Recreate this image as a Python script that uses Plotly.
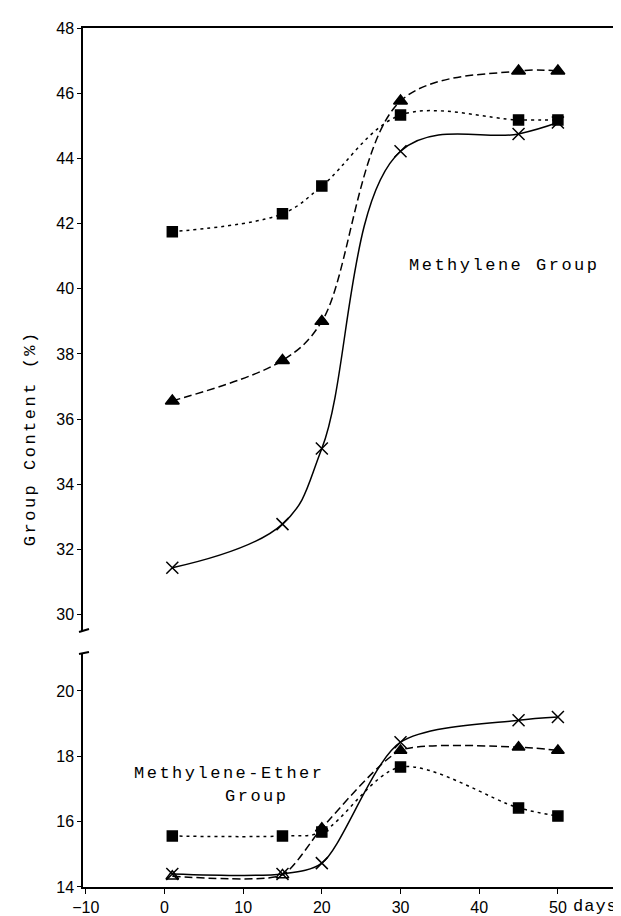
import plotly.graph_objects as go
from plotly.subplots import make_subplots

# ---- data ----
days = [1, 15, 20, 30, 45, 50]

methylene_square = [41.75, 42.3, 43.15, 45.33, 45.18, 45.18]
methylene_triangle = [36.56, 37.8, 39.0, 45.76, 46.68, 46.68]
methylene_cross = [31.44, 32.78, 35.1, 44.22, 44.75, 45.1]

ether_square = [15.56, 15.56, 15.68, 17.67, 16.42, 16.17]
ether_triangle = [14.33, 14.37, 15.8, 18.18, 18.28, 18.18]
ether_cross = [14.4, 14.4, 14.73, 18.43, 19.1, 19.2]

x_ticks = [-10, 0, 10, 20, 30, 40, 50]
top_ticks = [30, 32, 34, 36, 38, 40, 42, 44, 46, 48]
bottom_ticks = [14, 16, 18, 20]

TICKFONT = dict(family="Liberation Sans, Arial, sans-serif", size=16, color="black")
MONO = "Liberation Mono, Courier New, monospace"

fig = make_subplots(rows=2, cols=1, shared_xaxes=False, vertical_spacing=0.0)


def add_series(row, y, symbol, dash, msize, smooth, open_first=False):
    symbols = symbol
    if open_first:
        symbols = [symbol + "-open"] * 2 + [symbol] * (len(y) - 2)
    fig.add_trace(
        go.Scatter(
            x=days, y=y, mode="lines+markers",
            line=dict(color="black", width=1.5, dash=dash, shape="spline", smoothing=smooth),
            marker=dict(symbol=symbols, size=msize, color="black",
                        line=dict(color="black", width=1.5)),
            showlegend=False, hoverinfo="x+y",
        ),
        row=row, col=1,
    )


add_series(1, methylene_cross, "x-thin", "solid", 12, 1.1)
add_series(1, methylene_triangle, "triangle-up", "8px,4px", 12, 1.0)
add_series(1, methylene_square, "square", "3px,4px", 10, 1.0)

add_series(2, ether_cross, "x-thin", "solid", 12, 0.8)
add_series(2, ether_triangle, "triangle-up", "8px,4px", 11, 0.6, open_first=True)
add_series(2, ether_square, "square", "3px,4px", 10, 0.9)

xr = [-10.35, 58.4]

fig.update_layout(
    width=621, height=916,
    margin=dict(l=75, r=3, t=20, b=37),
    paper_bgcolor="white", plot_bgcolor="white",
    xaxis=dict(domain=[0, 1], range=xr, side="top", showline=True, linecolor="black",
               linewidth=1.5, showticklabels=False, ticks="", showgrid=False,
               zeroline=False, anchor="y"),
    yaxis=dict(domain=[0.298, 1.0], range=[29.5, 48], tickvals=top_ticks,
               showline=True, mirror=True, linecolor="black", linewidth=1.5,
               ticks="outside", ticklen=4, tickcolor="black", tickfont=TICKFONT,
               showgrid=False, zeroline=False, anchor="x"),
    xaxis2=dict(domain=[0, 1], range=xr, tickvals=x_ticks, showline=True,
                linecolor="black", linewidth=1.5, ticks="outside", ticklen=5,
                tickcolor="black", tickfont=TICKFONT, showgrid=False,
                zeroline=False, anchor="y2"),
    yaxis2=dict(domain=[0.0, 0.2724], range=[14, 21.16], tickvals=bottom_ticks,
                showline=True, linecolor="black", linewidth=1.5,
                ticks="outside", ticklen=4, tickcolor="black", tickfont=TICKFONT,
                showgrid=False, zeroline=False, anchor="x2"),
)


def px_x(p):
    return (p - 75) / 543.0


def px_y(p):
    return (879 - p) / 859.0


def mono(text, spacing=2.5):
    return f'<span style="letter-spacing:{spacing}px">{text}</span>'


annots = [
    dict(text=mono("Methylene Group"), x=px_x(498), y=px_y(257)),
    dict(text=mono("Methylene-Ether"), x=px_x(222), y=px_y(765)),
    dict(text=mono("Group"), x=px_x(250), y=px_y(788)),
    dict(text=mono("days", 1.0), x=px_x(565), y=px_y(898), xanchor="left"),
    dict(text=mono("Group Content (%)"), x=px_x(22), y=px_y(430), textangle=-90),
]
for a in annots:
    a.setdefault("xanchor", "center")
    fig.add_annotation(xref="paper", yref="paper", showarrow=False,
                       yanchor="middle",
                       font=dict(family=MONO, size=17, color="black"), **a)

# axis-break marks
breaks = [
    (71, 624, 81, 621),
    (71, 646, 81, 644),
    (614, 620, 621, 613),
    (614, 636, 621, 629),
]
for x0, y0, x1, y1 in breaks:
    fig.add_shape(type="line", xref="paper", yref="paper",
                  x0=px_x(x0), y0=px_y(y0), x1=px_x(x1), y1=px_y(y1),
                  line=dict(color="black", width=2))

fig.write_html("out.html")
